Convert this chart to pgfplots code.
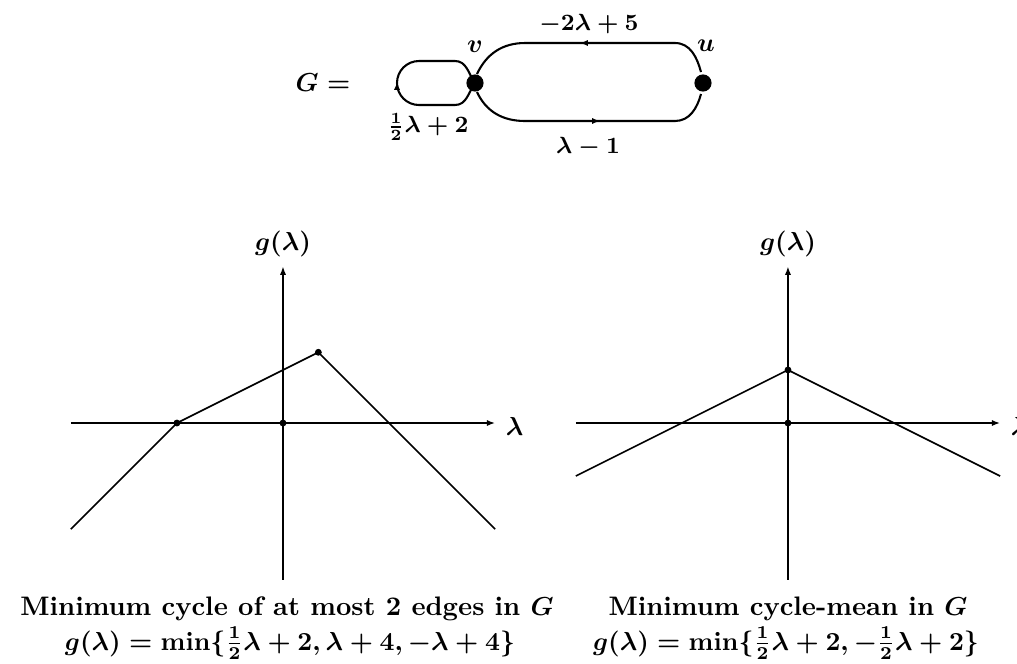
\documentclass[border=0pt]{standalone}
\usepackage{pgfplots}
\pgfplotsset{compat=1.18}
\usetikzlibrary{arrows.meta}

\pgfplotsset{
  lambdaplot/.style={
    axis lines=middle,
    x=10.2pt, y=10.2pt,
    xmin=-8, xmax=8,
    ymin=-5.9, ymax=5.9,
    enlargelimits=false,
    xtick=\empty, ytick=\empty,
    clip=false,
    anchor=origin,
    x axis line style={line width=1pt, -{Latex[length=3.2pt,width=2.4pt]}},
    y axis line style={line width=0.55pt, -{Latex[length=3.2pt,width=2.4pt]}},
    xlabel={$\lambda$}, ylabel={$g(\lambda)$},
    every axis x label/.style={at={(axis cs:8,0)}, anchor=west, xshift=0.6pt, yshift=-1.5pt, font=\boldmath},
    every axis y label/.style={at={(axis cs:0,5.9)}, anchor=south, font=\boldmath},
  },
}

\begin{document}
\begin{tikzpicture}
% ---- vertices v and u of G, in a frame of 1017 x 664 units ----
\begin{axis}[
  x=0.3846pt, y=0.3846pt,
  xmin=0, xmax=1017, ymin=-664, ymax=0,
  axis lines=none, xtick=\empty, ytick=\empty,
  anchor=origin, at={(0,0)}, clip=false,
]
  \addplot[only marks, mark=*, mark size=3.1pt, black] coordinates {(475,-83) (703,-83)};
\end{axis}

% ---- minimum cycle of at most 2 edges ----
\begin{axis}[lambdaplot, at={(108.84pt,-162.69pt)}]
  \addplot[black, line width=0.62pt] coordinates {(-8,-4) (-4,0) (1.3333,2.6667) (4,0) (8,-4)};
  \addplot[only marks, mark=*, mark size=1.1pt, black] coordinates {(0,0) (1.3333,2.6667) (-4,0)};
\end{axis}

% ---- minimum cycle-mean ----
\begin{axis}[lambdaplot, at={(303.06pt,-162.69pt)}]
  \addplot[black, line width=0.62pt] coordinates {(-8,-2) (-4,0) (0,2) (4,0) (8,-2)};
  \addplot[only marks, mark=*, mark size=1.1pt, black] coordinates {(0,0) (0,2)};
\end{axis}

% ---- edges, labels and captions of the graph G ----
\begin{scope}[x=0.3846pt, y=-0.3846pt, line width=0.8pt]
  % self loop at v
  \draw (475,83) to[out=125,in=0] (455,61) -- (419,61) to[out=180,in=90] (397,83)
    to[out=-90,in=180] (419,105) -- (455,105) to[out=0,in=-125] (475,83);
  \draw[-{Latex[length=3pt,width=2.4pt]}] (397,90) -- (397,82);
  % edge u -> v
  \draw (477,74) to[out=65,in=180] (525,43) -- (675,43) to[out=0,in=105] (701,72);
  \draw[-{Latex[length=3pt,width=2.4pt]}] (590,43) -- (580,43);
  % edge v -> u
  \draw (477,92) to[out=-65,in=180] (525,121) -- (675,121) to[out=0,in=-105] (701,94);
  \draw[-{Latex[length=3pt,width=2.4pt]}] (590,121) -- (600,121);
  % labels
  \node[font=\boldmath] at (323,83) {$G=$};
  \node[font=\boldmath] at (475,47) {$v$};
  \node[font=\boldmath] at (706,46) {$u$};
  \node[font=\fontsize{8.8}{10}\selectfont\boldmath] at (589,24) {$-2\lambda+5$};
  \node[font=\fontsize{8.8}{10}\selectfont\boldmath] at (428,127) {$\frac{1}{2}\lambda+2$};
  \node[font=\fontsize{8.8}{10}\selectfont\boldmath] at (588,147) {$\lambda-1$};
  % captions
  \node[anchor=base, font=\fontsize{10.3}{12}\selectfont\bfseries\boldmath] at (287,615) {Minimum cycle of at most 2 edges in $G$};
  \node[anchor=base, font=\fontsize{10}{12}\selectfont\bfseries\boldmath] at (290,650) {$g(\lambda)=\min\{\frac{1}{2}\lambda+2,\lambda+4,-\lambda+4\}$};
  \node[anchor=base, font=\fontsize{10.3}{12}\selectfont\bfseries\boldmath] at (788,615) {Minimum cycle-mean in $G$};
  \node[anchor=base, font=\fontsize{10}{12}\selectfont\bfseries\boldmath] at (786,650) {$g(\lambda)=\min\{\frac{1}{2}\lambda+2,-\frac{1}{2}\lambda+2\}$};
\end{scope}

\pgfresetboundingbox
\path[use as bounding box] (0,0) rectangle (391.14pt,-255.37pt);
\end{tikzpicture}
\end{document}
